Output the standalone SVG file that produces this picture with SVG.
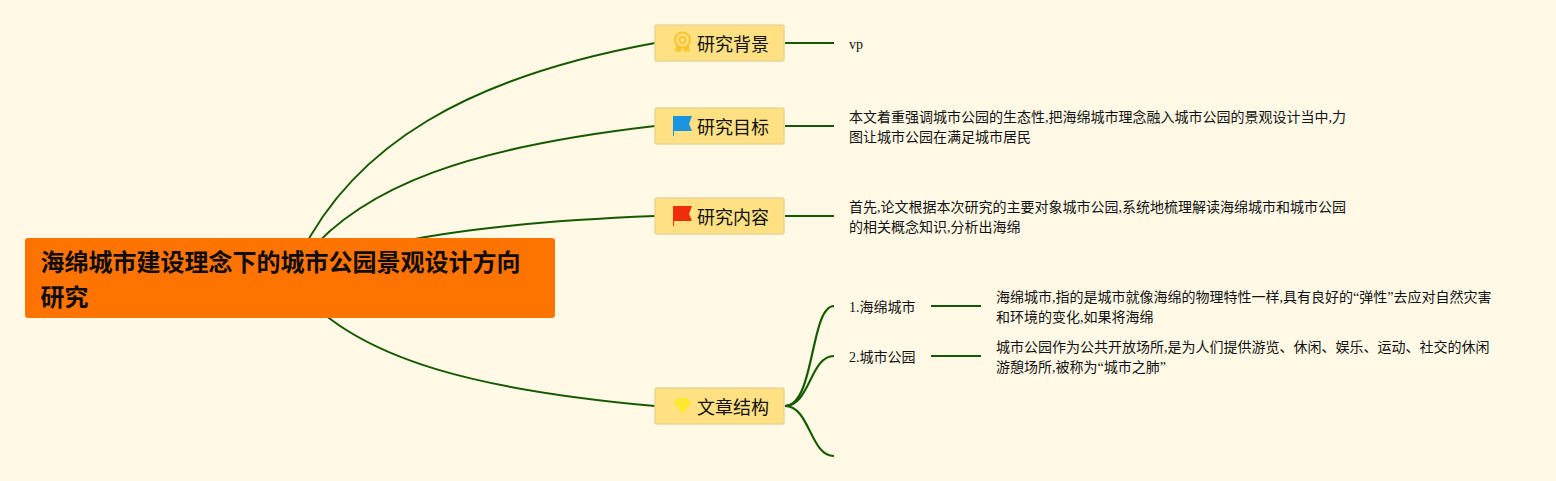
<svg xmlns="http://www.w3.org/2000/svg" width="1556" height="481" viewBox="0 0 1556 481">
<style>
text{font-family:"Liberation Serif","Noto Sans CJK SC",serif;fill:#111}
.t{font-size:14px}
.n{font-size:18px;font-family:"Liberation Serif","Noto Sans CJK SC",sans-serif}
.r{font-size:24px;font-weight:700;font-family:"Noto Sans CJK SC",sans-serif;fill:#0d0d0d}
.box{fill:#ffe082;stroke:#e8d596;stroke-width:1.5}
.c{fill:none;stroke:#155a00;stroke-width:2.200}
.m{fill:none;stroke:#155a00;stroke-width:2}
</style>
<rect width="1556" height="481" fill="#fff9e6"/>
<g id="connectors">
<path class="m" d="M290,278 C345,140 480,75 655,43"/>
<path class="m" d="M290,278 C350,180 490,145 655,126"/>
<path class="m" d="M290,278 C365,238 500,222 655,216"/>
<path class="m" d="M290,278 C350,365 500,392 655,406"/>
<path class="c" d="M785,43H834"/>
<path class="c" d="M785,126H834"/>
<path class="c" d="M785,216H834"/>
<path class="c" d="M785,406C815,406 810,306 834,306"/>
<path class="c" d="M785,406C810,406 810,356 834,356"/>
<path class="c" d="M785,406C810,406 810,456 834,456"/>
<path class="c" d="M931,306H981"/>
<path class="c" d="M931,356H981"/>
</g>
<g id="root">
<rect x="25" y="238" width="530" height="80" rx="3" fill="#ff7300"/>
<text class="r" x="40.500" y="271">海绵城市建设理念下的城市公园景观设计方向</text>
<text class="r" x="40.500" y="306">研究</text>
</g>
<g id="node-background">
<rect class="box" x="655" y="25" width="129" height="36" rx="2"/>
<g fill="none" stroke="#fbc62d" stroke-width="2"><circle cx="682.500" cy="40" r="7.500"/><circle cx="682.500" cy="40" r="3"/></g>
<path d="M676,46L675,52L678,51L680,53L682,48ZM689,46L690,52L687,51L685,53L683,48Z" fill="#fbc62d"/>
<text class="n" x="697" y="51">研究背景</text>
</g>
<g id="node-goal">
<rect class="box" x="655" y="108" width="129" height="36" rx="2"/>
<path d="M673,116H692L689,124L692,131H674V136H673Z" fill="#1b95e0"/>
<text class="n" x="697" y="134">研究目标</text>
</g>
<g id="node-content">
<rect class="box" x="655" y="198" width="129" height="36" rx="2"/>
<path d="M673,206H692L689,214L692,221H674V226H673Z" fill="#f02c0a"/>
<text class="n" x="697" y="224">研究内容</text>
</g>
<g id="node-structure">
<rect class="box" x="655" y="388" width="129" height="36" rx="2"/>
<path d="M678,398H687L691,403L682.500,414L674,403Z" fill="#fde92f"/>
<text class="n" x="697" y="414">文章结构</text>
</g>
<g id="leaf-vp"><text class="t" x="849" y="49">vp</text></g>
<g id="leaf-goal">
<text class="t" x="849" y="122">本文着重强调城市公园的生态性,把海绵城市理念融入城市公园的景观设计当中,力</text>
<text class="t" x="849" y="142">图让城市公园在满足城市居民</text>
</g>
<g id="leaf-content">
<text class="t" x="849" y="212">首先,论文根据本次研究的主要对象城市公园,系统地梳理解读海绵城市和城市公园</text>
<text class="t" x="849" y="232">的相关概念知识,分析出海绵</text>
</g>
<g id="leaf-sponge"><text class="t" x="849" y="312">1.海绵城市</text></g>
<g id="leaf-park"><text class="t" x="849" y="362">2.城市公园</text></g>
<g id="leaf-sponge-text">
<text class="t" x="996" y="302">海绵城市,指的是城市就像海绵的物理特性一样,具有良好的“弹性”去应对自然灾害</text>
<text class="t" x="996" y="322">和环境的变化,如果将海绵</text>
</g>
<g id="leaf-park-text">
<text class="t" x="996" y="352">城市公园作为公共开放场所,是为人们提供游览、休闲、娱乐、运动、社交的休闲</text>
<text class="t" x="996" y="372">游憩场所,被称为“城市之肺”</text>
</g>
</svg>
